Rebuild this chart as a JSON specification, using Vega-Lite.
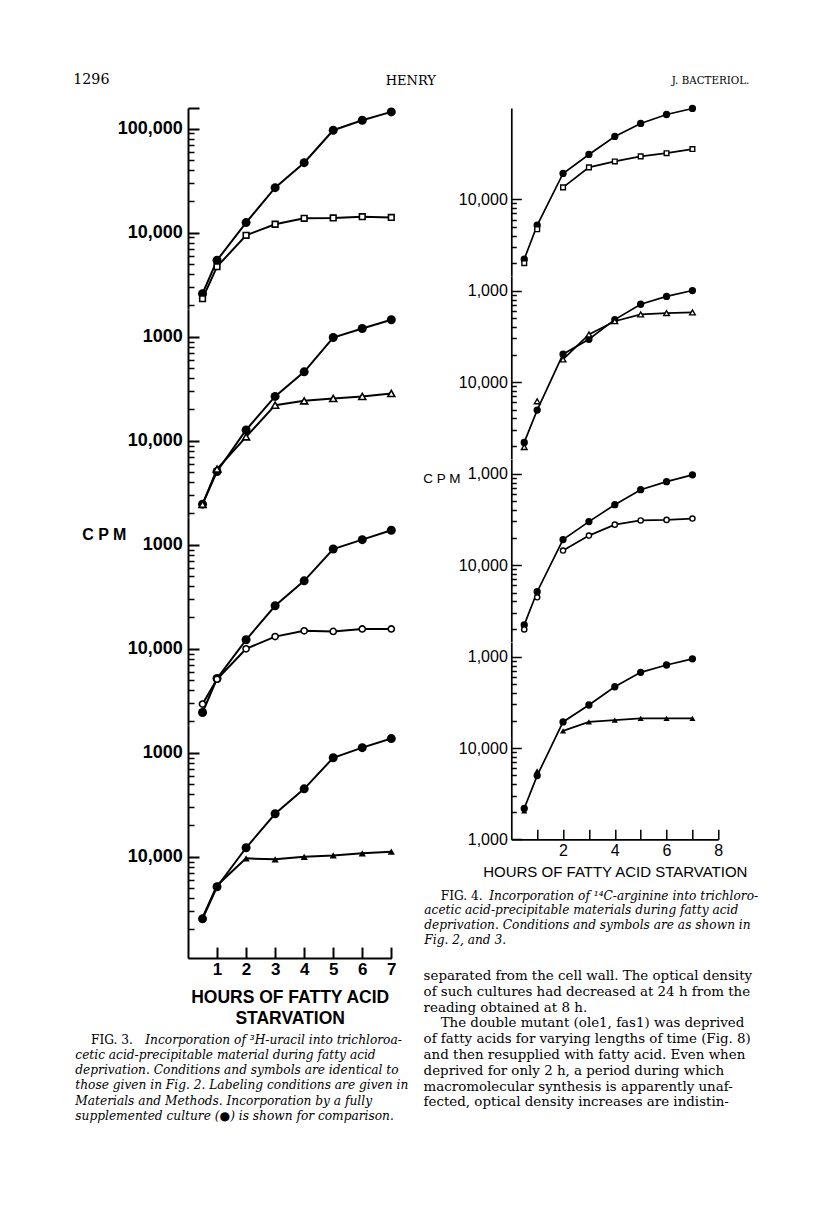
{
  "$schema": "https://vega.github.io/schema/vega-lite/v6.json",
  "background": "white",
  "padding": {"left": 73, "top": 73, "right": 20, "bottom": 20},
  "autosize": {"type": "pad"},
  "config": {
    "view": {"stroke": null},
    "axis": {"grid": false, "labelFlush": false, "labelOverlap": false, "domainColor": "black", "tickColor": "black", "labelColor": "black", "titleColor": "black"},
    "title": {"color": "black", "subtitleColor": "black"}
  },
  "datasets": {
    "pts": [
      {"fig":3,"panel":"A","series":"ctrl","hours":0.5,"cpm":2590},{"fig":3,"panel":"A","series":"ctrl","hours":1,"cpm":5430},{"fig":3,"panel":"A","series":"ctrl","hours":2,"cpm":12500},{"fig":3,"panel":"A","series":"ctrl","hours":3,"cpm":27100},{"fig":3,"panel":"A","series":"ctrl","hours":4,"cpm":47100},{"fig":3,"panel":"A","series":"ctrl","hours":5,"cpm":96600},{"fig":3,"panel":"A","series":"ctrl","hours":6,"cpm":120500},{"fig":3,"panel":"A","series":"ctrl","hours":7,"cpm":145000},
      {"fig":3,"panel":"A","series":"mut","hours":0.5,"cpm":2320},{"fig":3,"panel":"A","series":"mut","hours":1,"cpm":4710},{"fig":3,"panel":"A","series":"mut","hours":2,"cpm":9440},{"fig":3,"panel":"A","series":"mut","hours":3,"cpm":12050},{"fig":3,"panel":"A","series":"mut","hours":4,"cpm":13750},{"fig":3,"panel":"A","series":"mut","hours":5,"cpm":13850},{"fig":3,"panel":"A","series":"mut","hours":6,"cpm":14250},{"fig":3,"panel":"A","series":"mut","hours":7,"cpm":14000},
      {"fig":3,"panel":"B","series":"ctrl","hours":0.5,"cpm":2460},{"fig":3,"panel":"B","series":"ctrl","hours":1,"cpm":5070},{"fig":3,"panel":"B","series":"ctrl","hours":2,"cpm":12700},{"fig":3,"panel":"B","series":"ctrl","hours":3,"cpm":26700},{"fig":3,"panel":"B","series":"ctrl","hours":4,"cpm":46000},{"fig":3,"panel":"B","series":"ctrl","hours":5,"cpm":98400},{"fig":3,"panel":"B","series":"ctrl","hours":6,"cpm":120000},{"fig":3,"panel":"B","series":"ctrl","hours":7,"cpm":146000},
      {"fig":3,"panel":"B","series":"mut","hours":0.5,"cpm":2450},{"fig":3,"panel":"B","series":"mut","hours":1,"cpm":5340},{"fig":3,"panel":"B","series":"mut","hours":2,"cpm":10900},{"fig":3,"panel":"B","series":"mut","hours":3,"cpm":22000},{"fig":3,"panel":"B","series":"mut","hours":4,"cpm":24200},{"fig":3,"panel":"B","series":"mut","hours":5,"cpm":25500},{"fig":3,"panel":"B","series":"mut","hours":6,"cpm":26700},{"fig":3,"panel":"B","series":"mut","hours":7,"cpm":28500},
      {"fig":3,"panel":"C","series":"ctrl","hours":0.5,"cpm":2440},{"fig":3,"panel":"C","series":"ctrl","hours":1,"cpm":5180},{"fig":3,"panel":"C","series":"ctrl","hours":2,"cpm":12200},{"fig":3,"panel":"C","series":"ctrl","hours":3,"cpm":25900},{"fig":3,"panel":"C","series":"ctrl","hours":4,"cpm":45000},{"fig":3,"panel":"C","series":"ctrl","hours":5,"cpm":91000},{"fig":3,"panel":"C","series":"ctrl","hours":6,"cpm":112000},{"fig":3,"panel":"C","series":"ctrl","hours":7,"cpm":138000},
      {"fig":3,"panel":"C","series":"mut","hours":0.5,"cpm":2940},{"fig":3,"panel":"C","series":"mut","hours":1,"cpm":5100},{"fig":3,"panel":"C","series":"mut","hours":2,"cpm":10000},{"fig":3,"panel":"C","series":"mut","hours":3,"cpm":13100},{"fig":3,"panel":"C","series":"mut","hours":4,"cpm":14900},{"fig":3,"panel":"C","series":"mut","hours":5,"cpm":14700},{"fig":3,"panel":"C","series":"mut","hours":6,"cpm":15500},{"fig":3,"panel":"C","series":"mut","hours":7,"cpm":15500},
      {"fig":3,"panel":"D","series":"ctrl","hours":0.5,"cpm":2530},{"fig":3,"panel":"D","series":"ctrl","hours":1,"cpm":5150},{"fig":3,"panel":"D","series":"ctrl","hours":2,"cpm":12200},{"fig":3,"panel":"D","series":"ctrl","hours":3,"cpm":25900},{"fig":3,"panel":"D","series":"ctrl","hours":4,"cpm":45000},{"fig":3,"panel":"D","series":"ctrl","hours":5,"cpm":89500},{"fig":3,"panel":"D","series":"ctrl","hours":6,"cpm":112000},{"fig":3,"panel":"D","series":"ctrl","hours":7,"cpm":137000},
      {"fig":3,"panel":"D","series":"mut","hours":0.5,"cpm":2600},{"fig":3,"panel":"D","series":"mut","hours":1,"cpm":5300},{"fig":3,"panel":"D","series":"mut","hours":2,"cpm":9650},{"fig":3,"panel":"D","series":"mut","hours":3,"cpm":9440},{"fig":3,"panel":"D","series":"mut","hours":4,"cpm":10000},{"fig":3,"panel":"D","series":"mut","hours":5,"cpm":10300},{"fig":3,"panel":"D","series":"mut","hours":6,"cpm":10800},{"fig":3,"panel":"D","series":"mut","hours":7,"cpm":11200},
      {"fig":4,"panel":"A","series":"ctrl","hours":0.5,"cpm":2210},{"fig":4,"panel":"A","series":"ctrl","hours":1,"cpm":5200},{"fig":4,"panel":"A","series":"ctrl","hours":2,"cpm":19200},{"fig":4,"panel":"A","series":"ctrl","hours":3,"cpm":31000},{"fig":4,"panel":"A","series":"ctrl","hours":4,"cpm":48800},{"fig":4,"panel":"A","series":"ctrl","hours":5,"cpm":67700},{"fig":4,"panel":"A","series":"ctrl","hours":6,"cpm":84900},{"fig":4,"panel":"A","series":"ctrl","hours":7,"cpm":98800},
      {"fig":4,"panel":"A","series":"mut","hours":0.5,"cpm":2000},{"fig":4,"panel":"A","series":"mut","hours":1,"cpm":4700},{"fig":4,"panel":"A","series":"mut","hours":2,"cpm":13500},{"fig":4,"panel":"A","series":"mut","hours":3,"cpm":22400},{"fig":4,"panel":"A","series":"mut","hours":4,"cpm":26000},{"fig":4,"panel":"A","series":"mut","hours":5,"cpm":29500},{"fig":4,"panel":"A","series":"mut","hours":6,"cpm":32000},{"fig":4,"panel":"A","series":"mut","hours":7,"cpm":35500},
      {"fig":4,"panel":"B","series":"ctrl","hours":0.5,"cpm":2180},{"fig":4,"panel":"B","series":"ctrl","hours":1,"cpm":4930},{"fig":4,"panel":"B","series":"ctrl","hours":2,"cpm":20200},{"fig":4,"panel":"B","series":"ctrl","hours":3,"cpm":29400},{"fig":4,"panel":"B","series":"ctrl","hours":4,"cpm":48300},{"fig":4,"panel":"B","series":"ctrl","hours":5,"cpm":71100},{"fig":4,"panel":"B","series":"ctrl","hours":6,"cpm":86700},{"fig":4,"panel":"B","series":"ctrl","hours":7,"cpm":100500},
      {"fig":4,"panel":"B","series":"mut","hours":0.5,"cpm":1940},{"fig":4,"panel":"B","series":"mut","hours":1,"cpm":6160},{"fig":4,"panel":"B","series":"mut","hours":2,"cpm":17700},{"fig":4,"panel":"B","series":"mut","hours":3,"cpm":33200},{"fig":4,"panel":"B","series":"mut","hours":4,"cpm":46400},{"fig":4,"panel":"B","series":"mut","hours":5,"cpm":55000},{"fig":4,"panel":"B","series":"mut","hours":6,"cpm":56900},{"fig":4,"panel":"B","series":"mut","hours":7,"cpm":57800},
      {"fig":4,"panel":"C","series":"ctrl","hours":0.5,"cpm":2210},{"fig":4,"panel":"C","series":"ctrl","hours":1,"cpm":5100},{"fig":4,"panel":"C","series":"ctrl","hours":2,"cpm":19000},{"fig":4,"panel":"C","series":"ctrl","hours":3,"cpm":29900},{"fig":4,"panel":"C","series":"ctrl","hours":4,"cpm":45800},{"fig":4,"panel":"C","series":"ctrl","hours":5,"cpm":66900},{"fig":4,"panel":"C","series":"ctrl","hours":6,"cpm":81900},{"fig":4,"panel":"C","series":"ctrl","hours":7,"cpm":97300},
      {"fig":4,"panel":"C","series":"mut","hours":0.5,"cpm":1970},{"fig":4,"panel":"C","series":"mut","hours":1,"cpm":4430},{"fig":4,"panel":"C","series":"mut","hours":2,"cpm":14400},{"fig":4,"panel":"C","series":"mut","hours":3,"cpm":21000},{"fig":4,"panel":"C","series":"mut","hours":4,"cpm":27700},{"fig":4,"panel":"C","series":"mut","hours":5,"cpm":30800},{"fig":4,"panel":"C","series":"mut","hours":6,"cpm":31200},{"fig":4,"panel":"C","series":"mut","hours":7,"cpm":32300},
      {"fig":4,"panel":"D","series":"ctrl","hours":0.5,"cpm":2180},{"fig":4,"panel":"D","series":"ctrl","hours":1,"cpm":4990},{"fig":4,"panel":"D","series":"ctrl","hours":2,"cpm":19300},{"fig":4,"panel":"D","series":"ctrl","hours":3,"cpm":29600},{"fig":4,"panel":"D","series":"ctrl","hours":4,"cpm":46900},{"fig":4,"panel":"D","series":"ctrl","hours":5,"cpm":67500},{"fig":4,"panel":"D","series":"ctrl","hours":6,"cpm":81200},{"fig":4,"panel":"D","series":"ctrl","hours":7,"cpm":94900},
      {"fig":4,"panel":"D","series":"mut","hours":0.5,"cpm":2050},{"fig":4,"panel":"D","series":"mut","hours":1,"cpm":5620},{"fig":4,"panel":"D","series":"mut","hours":2,"cpm":15400},{"fig":4,"panel":"D","series":"mut","hours":3,"cpm":19300},{"fig":4,"panel":"D","series":"mut","hours":4,"cpm":20200},{"fig":4,"panel":"D","series":"mut","hours":5,"cpm":21100},{"fig":4,"panel":"D","series":"mut","hours":6,"cpm":21100},{"fig":4,"panel":"D","series":"mut","hours":7,"cpm":21100}
    ]
  },
  "spacing": 323.3,
  "bounds": "flush",
  "hconcat": [
    {
      "spacing": 0,
      "bounds": "flush",
      "vconcat": [
        {
          "width": 203.3, "height": 200.9,
          "title": {"text": "1296", "anchor": "start", "frame": "group", "align": "left", "baseline": "alphabetic", "dx": -114.7, "offset": 0.7, "font": "DejaVu Serif", "fontSize": 14.2, "fontWeight": "normal", "limit": 2000},
          "data": {"name": "pts"},
          "encoding": {
            "x": {"field": "hours", "type": "quantitative", "scale": {"domain": [0, 7], "nice": false, "zero": false}, "axis": null},
            "y": {"field": "cpm", "type": "quantitative", "scale": {"type": "log", "domain": [1850, 158000], "nice": false},
              "axis": {"title": null, "values": [2000,3000,4000,5000,6000,7000,8000,9000,10000,20000,30000,40000,50000,60000,70000,80000,90000,100000,158000],
                "labelExpr": "datum.value == 100000 ? '100,000' : datum.value == 10000 ? '10,000' : ''",
                "tickSize": {"condition": {"test": "datum.value == 10000 || datum.value == 100000 || datum.value == 158000", "value": -11}, "value": -6},
                "tickWidth": {"condition": {"test": "datum.value == 10000 || datum.value == 100000 || datum.value == 158000", "value": 2}, "value": 1.5},
                "domainWidth": 2, "labelFont": "Liberation Sans", "labelFontSize": 18, "labelFontWeight": "bold", "labelPadding": 16.7}}
          },
          "layer": [
            {"transform": [{"filter": "datum.fig == 3 && datum.panel == 'A'"}], "mark": {"type": "line", "color": "black", "strokeWidth": 2}, "encoding": {"detail": {"field": "series"}}},
            {"transform": [{"filter": "datum.fig == 3 && datum.panel == 'A' && datum.series == 'ctrl'"}], "mark": {"type": "point", "shape": "circle", "filled": true, "color": "black", "size": 81, "opacity": 1}},
            {"transform": [{"filter": "datum.fig == 3 && datum.panel == 'A' && datum.series == 'mut'"}], "mark": {"type": "point", "shape": "square", "filled": false, "fill": "white", "stroke": "black", "strokeWidth": 1.6, "size": 32, "opacity": 1}},
            {"data": {"values": [{"t": "A"}]}, "mark": {"type": "text", "font": "Liberation Sans", "fontSize": 14, "fontWeight": "bold", "color": "black", "align": "center", "baseline": "middle"}, "encoding": {"text": {"field": "t"}, "x": {"datum": 6.17}, "y": {"datum": 4580}}}
          ]
        },
        {
          "width": 203.3, "height": 208,
          "title": {"text": "HENRY", "anchor": "end", "frame": "group", "align": "center", "baseline": "alphabetic", "dx": 19.5, "offset": 210.8, "font": "DejaVu Serif", "fontSize": 13, "fontWeight": "normal", "limit": 2000},
          "data": {"name": "pts"},
          "encoding": {
            "x": {"field": "hours", "type": "quantitative", "scale": {"domain": [0, 7], "nice": false, "zero": false}, "axis": null},
            "y": {"field": "cpm", "type": "quantitative", "scale": {"type": "log", "domain": [1850, 185000], "nice": false},
              "axis": {"title": null, "values": [2000,3000,4000,5000,6000,7000,8000,9000,10000,20000,30000,40000,50000,60000,70000,80000,90000,100000],
                "labelExpr": "datum.value == 100000 ? '1000' : datum.value == 10000 ? '10,000' : ''",
                "tickSize": {"condition": {"test": "datum.value == 10000 || datum.value == 100000", "value": -11}, "value": -6},
                "tickWidth": {"condition": {"test": "datum.value == 10000 || datum.value == 100000", "value": 2}, "value": 1.5},
                "domainWidth": 2, "labelFont": "Liberation Sans", "labelFontSize": 18, "labelFontWeight": "bold", "labelPadding": 16.7}}
          },
          "layer": [
            {"transform": [{"filter": "datum.fig == 3 && datum.panel == 'B'"}], "mark": {"type": "line", "color": "black", "strokeWidth": 2}, "encoding": {"detail": {"field": "series"}}},
            {"transform": [{"filter": "datum.fig == 3 && datum.panel == 'B' && datum.series == 'ctrl'"}], "mark": {"type": "point", "shape": "circle", "filled": true, "color": "black", "size": 81, "opacity": 1}},
            {"transform": [{"filter": "datum.fig == 3 && datum.panel == 'B' && datum.series == 'mut'"}], "mark": {"type": "point", "shape": "triangle-up", "filled": false, "fill": "white", "stroke": "black", "strokeWidth": 1.6, "size": 49, "opacity": 1}},
            {"data": {"values": [{"t": "B"}]}, "mark": {"type": "text", "font": "Liberation Sans", "fontSize": 14, "fontWeight": "bold", "color": "black", "align": "center", "baseline": "middle"}, "encoding": {"text": {"field": "t"}, "x": {"datum": 6.1}, "y": {"datum": 6420}}}
          ]
        },
        {
          "width": 203.3, "height": 208,
          "data": {"name": "pts"},
          "encoding": {
            "x": {"field": "hours", "type": "quantitative", "scale": {"domain": [0, 7], "nice": false, "zero": false}, "axis": null},
            "y": {"field": "cpm", "type": "quantitative", "scale": {"type": "log", "domain": [1850, 185000], "nice": false},
              "axis": {"title": "C P M", "titleAngle": 0, "titleX": -84.2, "titleY": 17.1, "titleAlign": "center", "titleBaseline": "middle", "titleFont": "Liberation Sans", "titleFontSize": 16, "titleFontWeight": "bold",
                "values": [2000,3000,4000,5000,6000,7000,8000,9000,10000,20000,30000,40000,50000,60000,70000,80000,90000,100000],
                "labelExpr": "datum.value == 100000 ? '1000' : datum.value == 10000 ? '10,000' : ''",
                "tickSize": {"condition": {"test": "datum.value == 10000 || datum.value == 100000", "value": -11}, "value": -6},
                "tickWidth": {"condition": {"test": "datum.value == 10000 || datum.value == 100000", "value": 2}, "value": 1.5},
                "domainWidth": 2, "labelFont": "Liberation Sans", "labelFontSize": 18, "labelFontWeight": "bold", "labelPadding": 16.7}}
          },
          "layer": [
            {"transform": [{"filter": "datum.fig == 3 && datum.panel == 'C'"}], "mark": {"type": "line", "color": "black", "strokeWidth": 2}, "encoding": {"detail": {"field": "series"}}},
            {"transform": [{"filter": "datum.fig == 3 && datum.panel == 'C' && datum.series == 'ctrl'"}], "mark": {"type": "point", "shape": "circle", "filled": true, "color": "black", "size": 81, "opacity": 1}},
            {"transform": [{"filter": "datum.fig == 3 && datum.panel == 'C' && datum.series == 'mut'"}], "mark": {"type": "point", "shape": "circle", "filled": false, "fill": "white", "stroke": "black", "strokeWidth": 1.6, "size": 38, "opacity": 1}},
            {"data": {"values": [{"t": "C"}]}, "mark": {"type": "text", "font": "Liberation Sans", "fontSize": 14, "fontWeight": "bold", "color": "black", "align": "center", "baseline": "middle"}, "encoding": {"text": {"field": "t"}, "x": {"datum": 6.17}, "y": {"datum": 3380}}}
          ]
        },
        {
          "width": 203.3, "height": 233.1,
          "title": {"text": ["cetic acid-precipitable material during fatty acid", "deprivation. Conditions and symbols are identical to", "those given in Fig. 2. Labeling conditions are given in", "Materials and Methods. Incorporation by a fully", "supplemented culture (●) is shown for comparison."],
            "orient": "bottom", "anchor": "start", "frame": "group", "align": "left", "baseline": "top", "dx": -112.7, "offset": 21.4, "font": "DejaVu Serif", "fontSize": 12.2, "fontWeight": "normal", "fontStyle": "italic", "lineHeight": 15.4, "limit": 2000},
          "data": {"name": "pts"},
          "encoding": {
            "x": {"field": "hours", "type": "quantitative", "scale": {"domain": [0, 7], "nice": false, "zero": false},
              "axis": {"values": [1,2,3,4,5,6,7], "format": "d", "title": ["HOURS OF FATTY ACID", "STARVATION"], "tickSize": -11, "tickWidth": 2, "domainWidth": 2,
                "labelFont": "Liberation Sans", "labelFontSize": 17, "labelFontWeight": "bold", "labelPadding": 14,
                "titleFont": "Liberation Sans", "titleFontSize": 17.5, "titleFontWeight": "bold", "titlePadding": 11.5, "titleLineHeight": 21}},
            "y": {"field": "cpm", "type": "quantitative", "scale": {"type": "log", "domain": [1060, 185000], "nice": false},
              "axis": {"title": null, "values": [2000,3000,4000,5000,6000,7000,8000,9000,10000,20000,30000,40000,50000,60000,70000,80000,90000,100000],
                "labelExpr": "datum.value == 100000 ? '1000' : datum.value == 10000 ? '10,000' : ''",
                "tickSize": {"condition": {"test": "datum.value == 10000 || datum.value == 100000", "value": -11}, "value": -6},
                "tickWidth": {"condition": {"test": "datum.value == 10000 || datum.value == 100000", "value": 2}, "value": 1.5},
                "domainWidth": 2, "labelFont": "Liberation Sans", "labelFontSize": 18, "labelFontWeight": "bold", "labelPadding": 16.7}}
          },
          "layer": [
            {"transform": [{"filter": "datum.fig == 3 && datum.panel == 'D'"}], "mark": {"type": "line", "color": "black", "strokeWidth": 2}, "encoding": {"detail": {"field": "series"}}},
            {"transform": [{"filter": "datum.fig == 3 && datum.panel == 'D' && datum.series == 'ctrl'"}], "mark": {"type": "point", "shape": "circle", "filled": true, "color": "black", "size": 81, "opacity": 1}},
            {"transform": [{"filter": "datum.fig == 3 && datum.panel == 'D' && datum.series == 'mut'"}], "mark": {"type": "point", "shape": "triangle-up", "filled": true, "color": "black", "size": 52, "opacity": 1}},
            {"data": {"values": [{"t": "D"}]}, "mark": {"type": "text", "font": "Liberation Sans", "fontSize": 14, "fontWeight": "bold", "color": "black", "align": "center", "baseline": "middle"}, "encoding": {"text": {"field": "t"}, "x": {"datum": 6.17}, "y": {"datum": 3210}}}
          ]
        },
        {
          "width": 203.3, "height": 1,
          "title": {"text": "FIG. 3.", "orient": "bottom", "anchor": "start", "frame": "group", "align": "left", "baseline": "top", "dx": -97, "offset": 74.3, "font": "DejaVu Serif", "fontSize": 12.2, "fontWeight": "normal", "fontStyle": "normal", "limit": 2000},
          "data": {"values": []},
          "mark": "point"
        },
        {
          "width": 203.3, "height": 1,
          "title": {"text": "Incorporation of ³H-uracil into trichloroa-", "orient": "bottom", "anchor": "start", "frame": "group", "align": "left", "baseline": "top", "dx": -42.7, "offset": 73.3, "font": "DejaVu Serif", "fontSize": 12.2, "fontWeight": "normal", "fontStyle": "italic", "limit": 2000},
          "data": {"values": []},
          "mark": "point"
        }
      ]
    },
    {
      "spacing": 0,
      "bounds": "flush",
      "vconcat": [
        {
          "width": 207, "height": 167.9,
          "title": {"text": "J. BACTERIOL.", "anchor": "end", "frame": "group", "align": "right", "baseline": "alphabetic", "dx": 31, "offset": 10.1, "font": "DejaVu Serif", "fontSize": 10.3, "fontWeight": "normal", "limit": 2000},
          "data": {"name": "pts"},
          "encoding": {
            "x": {"field": "hours", "type": "quantitative", "scale": {"domain": [0, 8], "nice": false, "zero": false}, "axis": null},
            "y": {"field": "cpm", "type": "quantitative", "scale": {"type": "log", "domain": [1450, 100000], "nice": false},
              "axis": {"title": null, "values": [2000,3000,4000,5000,6000,7000,8000,9000,10000],
                "labelExpr": "datum.value == 10000 ? '10,000' : ''",
                "tickSize": {"condition": {"test": "datum.value == 10000", "value": -10}, "value": -5},
                "tickWidth": 1.5, "domainWidth": 1.7, "labelFont": "Liberation Sans", "labelFontSize": 16, "labelPadding": 14}}
          },
          "layer": [
            {"transform": [{"filter": "datum.fig == 4 && datum.panel == 'A' && (datum.series == 'ctrl' || datum.hours >= 2)"}], "mark": {"type": "line", "color": "black", "strokeWidth": 1.7}, "encoding": {"detail": {"field": "series"}}},
            {"transform": [{"filter": "datum.fig == 4 && datum.panel == 'A' && datum.series == 'ctrl'"}], "mark": {"type": "point", "shape": "circle", "filled": true, "color": "black", "size": 53, "opacity": 1}},
            {"transform": [{"filter": "datum.fig == 4 && datum.panel == 'A' && datum.series == 'mut'"}], "mark": {"type": "point", "shape": "square", "filled": false, "fill": "white", "stroke": "black", "strokeWidth": 1.4, "size": 22, "opacity": 1}},
            {"data": {"values": [{"t": "A"}]}, "mark": {"type": "text", "font": "Liberation Sans", "fontSize": 13, "color": "black", "align": "center", "baseline": "middle"}, "encoding": {"text": {"field": "t"}, "x": {"datum": 6.22}, "y": {"datum": 4690}}}
          ]
        },
        {
          "width": 207, "height": 182.6,
          "data": {"name": "pts"},
          "encoding": {
            "x": {"field": "hours", "type": "quantitative", "scale": {"domain": [0, 8], "nice": false, "zero": false}, "axis": null},
            "y": {"field": "cpm", "type": "quantitative", "scale": {"type": "log", "domain": [1450, 145000], "nice": false},
              "axis": {"title": null, "values": [2000,3000,4000,5000,6000,7000,8000,9000,10000,20000,30000,40000,50000,60000,70000,80000,90000,100000],
                "labelExpr": "datum.value == 100000 ? '1,000' : datum.value == 10000 ? '10,000' : ''",
                "tickSize": {"condition": {"test": "datum.value == 10000 || datum.value == 100000", "value": -10}, "value": -5},
                "tickWidth": 1.5, "domainWidth": 1.7, "labelFont": "Liberation Sans", "labelFontSize": 16, "labelPadding": 14}}
          },
          "layer": [
            {"transform": [{"filter": "datum.fig == 4 && datum.panel == 'B' && (datum.series == 'ctrl' || datum.hours >= 2)"}], "mark": {"type": "line", "color": "black", "strokeWidth": 1.7}, "encoding": {"detail": {"field": "series"}}},
            {"transform": [{"filter": "datum.fig == 4 && datum.panel == 'B' && datum.series == 'ctrl'"}], "mark": {"type": "point", "shape": "circle", "filled": true, "color": "black", "size": 53, "opacity": 1}},
            {"transform": [{"filter": "datum.fig == 4 && datum.panel == 'B' && datum.series == 'mut'"}], "mark": {"type": "point", "shape": "triangle-up", "filled": false, "fill": "white", "stroke": "black", "strokeWidth": 1.4, "size": 32, "opacity": 1}},
            {"data": {"values": [{"t": "B"}]}, "mark": {"type": "text", "font": "Liberation Sans", "fontSize": 13, "color": "black", "align": "center", "baseline": "middle"}, "encoding": {"text": {"field": "t"}, "x": {"datum": 6.22}, "y": {"datum": 4450}}}
          ]
        },
        {
          "width": 207, "height": 182.6,
          "data": {"name": "pts"},
          "encoding": {
            "x": {"field": "hours", "type": "quantitative", "scale": {"domain": [0, 8], "nice": false, "zero": false}, "axis": null},
            "y": {"field": "cpm", "type": "quantitative", "scale": {"type": "log", "domain": [1450, 145000], "nice": false},
              "axis": {"title": "C P M", "titleAngle": 0, "titleX": -70, "titleY": 19.5, "titleAlign": "center", "titleBaseline": "middle", "titleFont": "Liberation Sans", "titleFontSize": 13.5, "titleFontWeight": "normal",
                "values": [2000,3000,4000,5000,6000,7000,8000,9000,10000,20000,30000,40000,50000,60000,70000,80000,90000,100000],
                "labelExpr": "datum.value == 100000 ? '1,000' : datum.value == 10000 ? '10,000' : ''",
                "tickSize": {"condition": {"test": "datum.value == 10000 || datum.value == 100000", "value": -10}, "value": -5},
                "tickWidth": 1.5, "domainWidth": 1.7, "labelFont": "Liberation Sans", "labelFontSize": 16, "labelPadding": 14}}
          },
          "layer": [
            {"transform": [{"filter": "datum.fig == 4 && datum.panel == 'C' && (datum.series == 'ctrl' || datum.hours >= 2)"}], "mark": {"type": "line", "color": "black", "strokeWidth": 1.7}, "encoding": {"detail": {"field": "series"}}},
            {"transform": [{"filter": "datum.fig == 4 && datum.panel == 'C' && datum.series == 'ctrl'"}], "mark": {"type": "point", "shape": "circle", "filled": true, "color": "black", "size": 53, "opacity": 1}},
            {"transform": [{"filter": "datum.fig == 4 && datum.panel == 'C' && datum.series == 'mut'"}], "mark": {"type": "point", "shape": "circle", "filled": false, "fill": "white", "stroke": "black", "strokeWidth": 1.4, "size": 27, "opacity": 1}},
            {"data": {"values": [{"t": "C"}]}, "mark": {"type": "text", "font": "Liberation Sans", "fontSize": 13, "color": "black", "align": "center", "baseline": "middle"}, "encoding": {"text": {"field": "t"}, "x": {"datum": 6.22}, "y": {"datum": 3800}}}
          ]
        },
        {
          "width": 207, "height": 197.3,
          "title": {"text": ["acetic acid-precipitable materials during fatty acid", "deprivation. Conditions and symbols are as shown in", "Fig. 2, and 3."],
            "orient": "bottom", "anchor": "start", "frame": "group", "align": "left", "baseline": "top", "dx": -87, "offset": 24.4, "font": "DejaVu Serif", "fontSize": 12.2, "fontWeight": "normal", "fontStyle": "italic", "lineHeight": 15.1, "limit": 2000},
          "data": {"name": "pts"},
          "encoding": {
            "x": {"field": "hours", "type": "quantitative", "scale": {"domain": [0, 8], "nice": false, "zero": false},
              "axis": {"values": [1,2,3,4,5,6,7,8], "labelExpr": "datum.value % 2 == 0 ? datum.label : ''", "title": "HOURS OF FATTY ACID STARVATION", "tickSize": -10, "tickWidth": 1.5, "domainWidth": 1.7,
                "labelFont": "Liberation Sans", "labelFontSize": 16, "labelPadding": 13,
                "titleFont": "Liberation Sans", "titleFontSize": 15, "titleFontWeight": "normal", "titlePadding": 6}},
            "y": {"field": "cpm", "type": "quantitative", "scale": {"type": "log", "domain": [1000, 145000], "nice": false},
              "axis": {"title": null, "values": [1000,2000,3000,4000,5000,6000,7000,8000,9000,10000,20000,30000,40000,50000,60000,70000,80000,90000,100000],
                "labelExpr": "datum.value == 100000 ? '1,000' : datum.value == 10000 ? '10,000' : datum.value == 1000 ? '1,000' : ''",
                "tickSize": {"condition": {"test": "datum.value == 10000 || datum.value == 100000 || datum.value == 1000", "value": -10}, "value": -5},
                "tickWidth": 1.5, "domainWidth": 1.7, "labelFont": "Liberation Sans", "labelFontSize": 16, "labelPadding": 14}}
          },
          "layer": [
            {"transform": [{"filter": "datum.fig == 4 && datum.panel == 'D' && (datum.series == 'ctrl' || datum.hours >= 2)"}], "mark": {"type": "line", "color": "black", "strokeWidth": 1.7}, "encoding": {"detail": {"field": "series"}}},
            {"transform": [{"filter": "datum.fig == 4 && datum.panel == 'D' && datum.series == 'ctrl'"}], "mark": {"type": "point", "shape": "circle", "filled": true, "color": "black", "size": 53, "opacity": 1}},
            {"transform": [{"filter": "datum.fig == 4 && datum.panel == 'D' && datum.series == 'mut'"}], "mark": {"type": "point", "shape": "triangle-up", "filled": true, "color": "black", "size": 38, "opacity": 1}},
            {"data": {"values": [{"t": "D"}]}, "mark": {"type": "text", "font": "Liberation Sans", "fontSize": 13, "color": "black", "align": "center", "baseline": "middle"}, "encoding": {"text": {"field": "t"}, "x": {"datum": 6.22}, "y": {"datum": 3140}}}
          ]
        },
        {
          "width": 207, "height": 1,
          "title": {"text": ["separated from the cell wall. The optical density", "of such cultures had decreased at 24 h from the", "reading obtained at 8 h.", "\u200b\u00a0\u00a0\u00a0\u00a0The double mutant (ole1, fas1) was deprived", "of fatty acids for varying lengths of time (Fig. 8)", "and then resupplied with fatty acid. Even when", "deprived for only 2 h, a period during which", "macromolecular synthesis is apparently unaf-", "fected, optical density increases are indistin-"],
            "orient": "bottom", "anchor": "start", "frame": "group", "align": "left", "baseline": "top", "dx": -87.7, "offset": 128, "font": "DejaVu Serif", "fontSize": 13.4, "fontWeight": "normal", "lineHeight": 15.8, "limit": 2000},
          "data": {"values": []},
          "mark": "point"
        },
        {
          "width": 207, "height": 1,
          "title": {"text": "FIG. 4.", "orient": "bottom", "anchor": "start", "frame": "group", "align": "left", "baseline": "top", "dx": -70.5, "offset": 47.9, "font": "DejaVu Serif", "fontSize": 12.2, "fontWeight": "normal", "fontStyle": "normal", "limit": 2000},
          "data": {"values": []},
          "mark": "point"
        },
        {
          "width": 207, "height": 1,
          "title": {"text": "Incorporation of ¹⁴C-arginine into trichloro-", "orient": "bottom", "anchor": "start", "frame": "group", "align": "left", "baseline": "top", "dx": -22, "offset": 46.9, "font": "DejaVu Serif", "fontSize": 12.2, "fontWeight": "normal", "fontStyle": "italic", "limit": 2000},
          "data": {"values": []},
          "mark": "point"
        }
      ]
    }
  ]
}
